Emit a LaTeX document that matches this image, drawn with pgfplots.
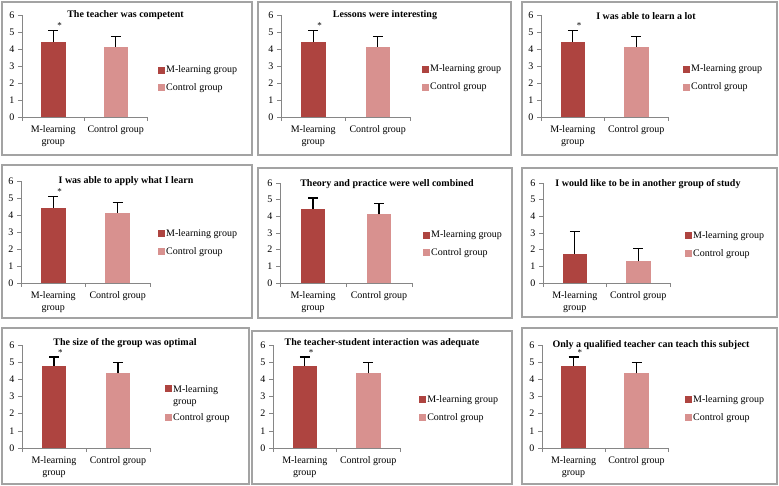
\documentclass[border=0pt]{standalone}
\usepackage{fontspec}
\setmainfont{Liberation Serif}
\usepackage{pgfplots}
\pgfplotsset{compat=1.18}
\definecolor{mcol}{HTML}{AE4440}
\definecolor{ccol}{HTML}{D8918F}
\definecolor{axgray}{HTML}{868686}
\definecolor{framegray}{HTML}{A3A3A3}

\pgfplotsset{
  panel/.style={
    scale only axis,
    ybar, bar width=24.5pt, bar shift=0pt,
    xmin=-0.5, xmax=1.5, ymin=0, ymax=6,
    xtick={0,1}, xticklabels={{M-learning\\group},{Control group}},
    x tick label style={align=center, yshift=-1pt},
    minor xtick={-0.5,0.5,1.5},
    major x tick style={draw=none},
    ytick={0,1,...,6},
    axis x line*=bottom, axis y line*=left,
    axis line style={draw=axgray, -},
    tick style={draw=axgray, line width=0.6pt},
    tick align=outside, major tick length=4pt, minor tick length=4pt,
    /pgf/number format/assume math mode=true,
    clip=false,
    legend cell align=left,
    legend style={draw=none, fill=none, anchor=west, inner sep=0pt, row sep=7.5pt, nodes={inner sep=1pt}},
    legend image code/.code={\fill[##1] (0pt,-3.5pt) rectangle (7pt,3.5pt);},
    error bars/error bar style={black, line width=1.2pt},
    error bars/error mark options={black, rotate=90, mark size=5pt, line width=1.2pt},
  },
}
\tikzset{starnode/.style={anchor=south, inner sep=0pt, yshift=1.5pt, font=\small}}

\begin{document}
\begin{tikzpicture}
\path[use as bounding box] (0pt,0pt) rectangle (779pt,-486pt);

% panel frames
\begin{scope}[framegray, line width=1.5pt]
\draw (2pt,-2pt) rectangle (252pt,-155pt);
\draw (258pt,-2pt) rectangle (511pt,-155pt);
\draw (522pt,-2pt) rectangle (777pt,-155pt);
\draw (2pt,-165pt) rectangle (252pt,-318pt);
\draw (258pt,-168pt) rectangle (512pt,-318pt);
\draw (522pt,-168pt) rectangle (777pt,-317pt);
\draw (2pt,-328pt) rectangle (249pt,-484pt);
\draw (252pt,-331pt) rectangle (512pt,-484pt);
\draw (522pt,-328pt) rectangle (777pt,-484pt);
\end{scope}

% row 1
\begin{axis}[panel, at={(22pt,-117pt)}, anchor=south west, width=125pt, height=102pt,
  legend style={at={(1.088,0.3725)}}]
\addplot[fill=mcol, draw=none, error bars/.cd, y dir=plus, y explicit] coordinates {(0,4.42) +- (0,0.68)};
\addplot[fill=ccol, draw=none, error bars/.cd, y dir=plus, y explicit] coordinates {(1,4.12) +- (0,0.61)};
\legend{M-learning group, Control group}
\node[starnode] at (axis cs:0.1,5.1) {*};
\end{axis}
\node[font=\bfseries] at (125.5pt,-15pt) {The teacher was competent};

\begin{axis}[panel, at={(281pt,-117pt)}, anchor=south west, width=129pt, height=102pt,
  legend style={at={(1.093,0.382)}}]
\addplot[fill=mcol, draw=none, error bars/.cd, y dir=plus, y explicit] coordinates {(0,4.42) +- (0,0.68)};
\addplot[fill=ccol, draw=none, error bars/.cd, y dir=plus, y explicit] coordinates {(1,4.12) +- (0,0.62)};
\legend{M-learning group, Control group}
\node[starnode] at (axis cs:0.1,5.1) {*};
\end{axis}
\node[font=\bfseries] at (385pt,-15pt) {Lessons were interesting};

\begin{axis}[panel, at={(541pt,-117pt)}, anchor=south west, width=127pt, height=102pt,
  legend style={at={(1.118,0.382)}}]
\addplot[fill=mcol, draw=none, error bars/.cd, y dir=plus, y explicit] coordinates {(0,4.42) +- (0,0.68)};
\addplot[fill=ccol, draw=none, error bars/.cd, y dir=plus, y explicit] coordinates {(1,4.12) +- (0,0.62)};
\legend{M-learning group, Control group}
\node[starnode] at (axis cs:0.1,5.1) {*};
\end{axis}
\node[font=\bfseries] at (646pt,-16pt) {I was able to learn a lot};

% row 2
\begin{axis}[panel, at={(21pt,-283pt)}, anchor=south west, width=129pt, height=102pt,
  legend style={at={(1.062,0.397)}}]
\addplot[fill=mcol, draw=none, error bars/.cd, y dir=plus, y explicit] coordinates {(0,4.42) +- (0,0.68)};
\addplot[fill=ccol, draw=none, error bars/.cd, y dir=plus, y explicit] coordinates {(1,4.12) +- (0,0.62)};
\legend{M-learning group, Control group}
\node[starnode] at (axis cs:0.1,5.1) {*};
\end{axis}
\node[font=\bfseries] at (126pt,-181pt) {I was able to apply what I learn};

\begin{axis}[panel, at={(280pt,-283pt)}, anchor=south west, width=132pt, height=100pt,
  legend style={at={(1.083,0.39)}}]
\addplot[fill=mcol, draw=none, error bars/.cd, y dir=plus, y explicit] coordinates {(0,4.45) +- (0,0.65)};
\addplot[fill=ccol, draw=none, error bars/.cd, y dir=plus, y explicit] coordinates {(1,4.12) +- (0,0.63)};
\legend{M-learning group, Control group}
\end{axis}
\node[font=\bfseries] at (387pt,-184pt) {Theory and practice were well combined};

\begin{axis}[panel, at={(543pt,-283pt)}, anchor=south west, width=127pt, height=100pt,
  legend style={at={(1.118,0.385)}}]
\addplot[fill=mcol, draw=none, error bars/.cd, y dir=plus, y explicit] coordinates {(0,1.75) +- (0,1.35)};
\addplot[fill=ccol, draw=none, error bars/.cd, y dir=plus, y explicit] coordinates {(1,1.3) +- (0,0.75)};
\legend{M-learning group, Control group}
\end{axis}
\node[font=\bfseries] at (648pt,-184pt) {I would like to be in another group of study};

% row 3
\begin{axis}[panel, at={(22pt,-448pt)}, anchor=south west, width=128pt, height=103pt,
  legend style={at={(1.117,0.437)}, row sep=18pt}]
\addplot[fill=mcol, draw=none, error bars/.cd, y dir=plus, y explicit] coordinates {(0,4.78) +- (0,0.52)};
\addplot[fill=ccol, draw=none, error bars/.cd, y dir=plus, y explicit] coordinates {(1,4.35) +- (0,0.62)};
\addlegendentry{\begin{tabular}[t]{@{}l@{}}M-learning\\group\end{tabular}}
\addlegendentry{Control group}
\node[starnode] at (axis cs:0.1,5.3) {*};
\end{axis}
\node[font=\bfseries] at (125pt,-343pt) {The size of the group was optimal};

\begin{axis}[panel, at={(273pt,-448pt)}, anchor=south west, width=127pt, height=103pt,
  legend style={at={(1.15,0.379)}}]
\addplot[fill=mcol, draw=none, error bars/.cd, y dir=plus, y explicit] coordinates {(0,4.78) +- (0,0.52)};
\addplot[fill=ccol, draw=none, error bars/.cd, y dir=plus, y explicit] coordinates {(1,4.35) +- (0,0.62)};
\legend{M-learning group, Control group}
\node[starnode] at (axis cs:0.1,5.3) {*};
\end{axis}
\node[font=\bfseries] at (382pt,-343pt) {The teacher-student interaction was adequate};

\begin{axis}[panel, at={(542pt,-448pt)}, anchor=south west, width=126pt, height=103pt,
  legend style={at={(1.135,0.379)}}]
\addplot[fill=mcol, draw=none, error bars/.cd, y dir=plus, y explicit] coordinates {(0,4.78) +- (0,0.52)};
\addplot[fill=ccol, draw=none, error bars/.cd, y dir=plus, y explicit] coordinates {(1,4.35) +- (0,0.62)};
\legend{M-learning group, Control group}
\node[starnode] at (axis cs:0.1,5.3) {*};
\end{axis}
\node[font=\bfseries] at (651pt,-345pt) {Only a qualified teacher can teach this subject};

\end{tikzpicture}
\end{document}
